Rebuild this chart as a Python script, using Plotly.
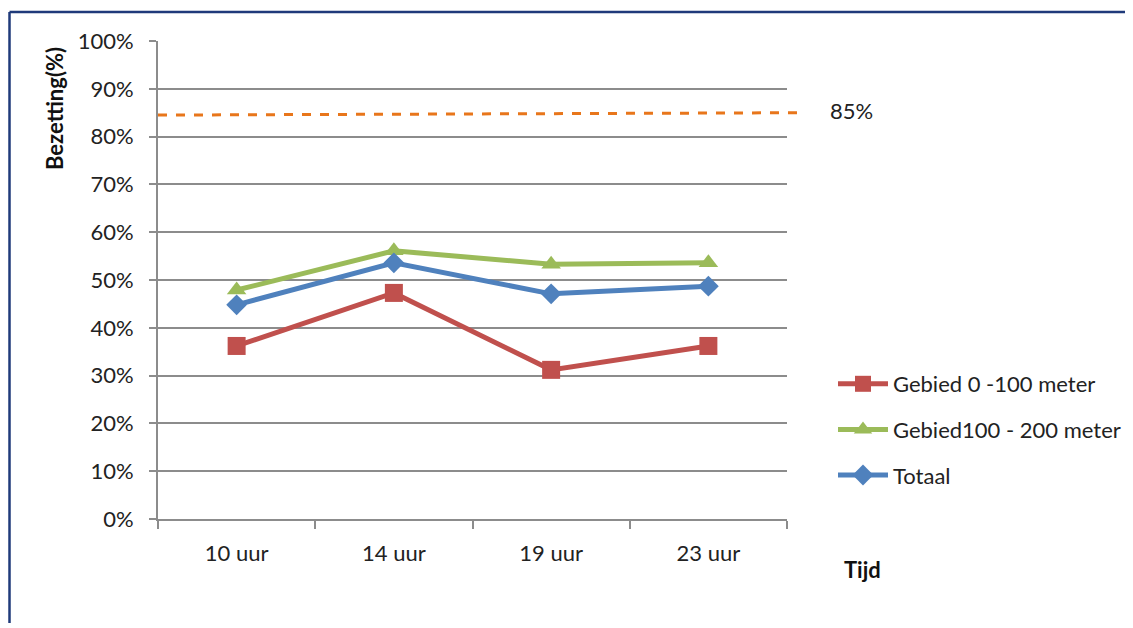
import plotly.graph_objects as go

categories = ["10 uur", "14 uur", "19 uur", "23 uur"]
gebied_0_100 = [36.2, 47.3, 31.2, 36.2]
gebied_100_200 = [47.9, 56.1, 53.3, 53.6]
totaal = [44.8, 53.6, 47.1, 48.7]
threshold_line = [84.5, 85.0]
threshold_label = "85%"
y_ticks = [0, 10, 20, 30, 40, 50, 60, 70, 80, 90, 100]

OFF = 8                      # page body margin
W, H = 1133, 615             # figure size
L, R, T, B = 158, 787, 41, 519   # plot area in screen pixels

def px(x):
    return (x - L) / (R - L)

def py(y):
    return (B - y) / (B - T)

FONT = "Lato, 'Open Sans', sans-serif"
GRID = "#8c8c8c"
FS = 22
FRAME = "#1F3A7A"

fig = go.Figure()
fig.add_trace(go.Scatter(
    x=categories, y=gebied_0_100, name="Gebied 0 -100 meter", mode="lines+markers",
    line=dict(color="#C0504D", width=5),
    marker=dict(symbol="square", size=18, color="#C0504D"),
    legendgroup="a"))
fig.add_trace(go.Scatter(
    x=categories, y=gebied_100_200, name="Gebied100 - 200 meter", mode="lines+markers",
    line=dict(color="#9BBB59", width=5),
    marker=dict(symbol="triangle-up", size=17, color="#9BBB59"),
    legendgroup="b"))
fig.add_trace(go.Scatter(
    x=categories, y=totaal, name="Totaal", mode="lines+markers",
    line=dict(color="#4F81BD", width=5),
    marker=dict(symbol="diamond", size=16, color="#4F81BD"),
    legendgroup="c"))

shapes = [
    dict(type="line", xref="paper", yref="y", x0=0, x1=px(805),
         y0=threshold_line[0], y1=threshold_line[1],
         line=dict(color="#E8761B", width=3, dash="dash")),
    # frame: top edge and left edge
    dict(type="line", xref="paper", yref="paper", x0=px(9.5), x1=px(1150),
         y0=py(12), y1=py(12), line=dict(color=FRAME, width=2.5), layer="above"),
    dict(type="line", xref="paper", yref="paper", x0=px(9.5), x1=px(9.5),
         y0=py(12), y1=py(650), line=dict(color=FRAME, width=2.5), layer="above"),
]

annotations = [
    dict(text=threshold_label, xref="paper", yref="y", x=px(828), y=threshold_line[1] + 0.5,
         xanchor="left", yanchor="middle", showarrow=False,
         font=dict(family=FONT, size=FS, color="#222")),
    dict(text="<b>Bezetting(%)</b>", xref="paper", yref="paper", x=px(55), y=py(108),
         textangle=-90, xanchor="center", yanchor="middle", showarrow=False,
         font=dict(family=FONT, size=FS, color="#111")),
    dict(text="<b>Tijd</b>", xref="paper", yref="paper", x=px(862), y=py(569),
         xanchor="center", yanchor="middle", showarrow=False,
         font=dict(family=FONT, size=FS, color="#111")),
]

fig.update_layout(
    width=W, height=H,
    margin=dict(l=L - OFF, r=OFF + W - R, t=T - OFF, b=OFF + H - B),
    paper_bgcolor="white", plot_bgcolor="white",
    font=dict(family=FONT, size=FS, color="#222"),
    shapes=shapes, annotations=annotations,
    legend=dict(x=px(833), y=py(363), xanchor="left", yanchor="top",
                font=dict(family=FONT, size=FS, color="#222"),
                tracegroupgap=14, traceorder="grouped",
                itemwidth=50, bgcolor="rgba(0,0,0,0)"),
    showlegend=True,
)
fig.update_xaxes(
    type="category", range=[-0.5, 3.5], tickson="boundaries",
    showline=True, linecolor=GRID, linewidth=2,
    ticks="outside", ticklen=8, tickwidth=2, tickcolor=GRID,
    showgrid=False, zeroline=False, ticklabelstandoff=14,
    tickfont=dict(family=FONT, size=FS, color="#222"),
)
fig.update_yaxes(
    range=[0, 100], tickvals=y_ticks, ticktext=[f"{v}%" for v in y_ticks],
    showline=True, linecolor=GRID, linewidth=2,
    ticks="outside", ticklen=7, tickwidth=2, tickcolor=GRID,
    showgrid=True, gridcolor=GRID, gridwidth=2, zeroline=False,
    ticklabelstandoff=11,
    tickfont=dict(family=FONT, size=FS, color="#222"),
)

fig.write_html("out.html")
